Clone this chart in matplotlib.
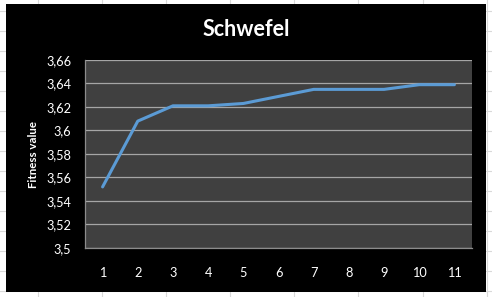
import matplotlib
matplotlib.use("Agg")
import matplotlib.pyplot as plt
from matplotlib.patches import Rectangle
from matplotlib.lines import Line2D
from matplotlib.ticker import FuncFormatter

# datos
iteraciones = [1, 2, 3, 4, 5, 6, 7, 8, 9, 10, 11]
fitness = [3.552, 3.608, 3.621, 3.621, 3.623, 3.629, 3.635, 3.635, 3.635, 3.639, 3.639]
yticks = [3.5, 3.52, 3.54, 3.56, 3.58, 3.6, 3.62, 3.64, 3.66]

plt.rcParams['font.family'] = ['Lato', 'DejaVu Sans']

W, H = 492, 297
fig = plt.figure(figsize=(W / 100, H / 100), dpi=100)
fig.patch.set_facecolor('white')

# rejilla de la hoja de calculo por detras
for x in [38, 102, 166, 230, 294, 358, 423, 487]:
    fig.add_artist(Line2D([x / W, x / W], [0, 1], color='#d9d9d9', lw=0.8, zorder=0))
for y in range(11, H, 20):
    fig.add_artist(Line2D([0, 1], [1 - y / H, 1 - y / H], color='#d9d9d9', lw=0.8, zorder=0))

# fondo negro del grafico
fig.add_artist(Rectangle((6 / W, 1 - 292 / H), 480 / W, 288 / H,
                         facecolor='black', edgecolor='none', zorder=1))

ax = fig.add_axes([85 / W, 1 - 248 / H, 387 / W, 188 / H])
ax.set_zorder(2)
ax.set_facecolor('#404040')
ax.plot(iteraciones, fitness, color='#5b9bd5', lw=2.2, solid_capstyle='round')

ax.set_xlim(0.5, 11.5)
ax.set_ylim(3.5, 3.66)
ax.set_xticks(iteraciones)
ax.set_yticks(yticks)
ax.yaxis.set_major_formatter(FuncFormatter(lambda v, p: ('%g' % round(v, 2)).replace('.', ',')))
ax.grid(axis='y', color='#a6a6a6', lw=0.9)
ax.set_axisbelow(True)
ax.tick_params(length=0, colors='white', labelsize=9.2)
ax.tick_params(axis='y', pad=10)
ax.tick_params(axis='x', pad=14)
for s in ax.spines.values():
    s.set_color('#8c8c8c')
    s.set_linewidth(0.9)
ax.spines['top'].set_visible(False)
ax.spines['right'].set_visible(False)

ax.set_ylabel('Fitness value', color='white', fontsize=8.3, fontweight='bold', labelpad=5)
fig.text(0.5 * (6 + 486) / W, 1 - 30 / H, 'Schwefel', color='white', fontsize=15.5,
         fontweight='bold', ha='center', va='center')

fig.savefig('out.png', dpi=100, facecolor=fig.get_facecolor())
